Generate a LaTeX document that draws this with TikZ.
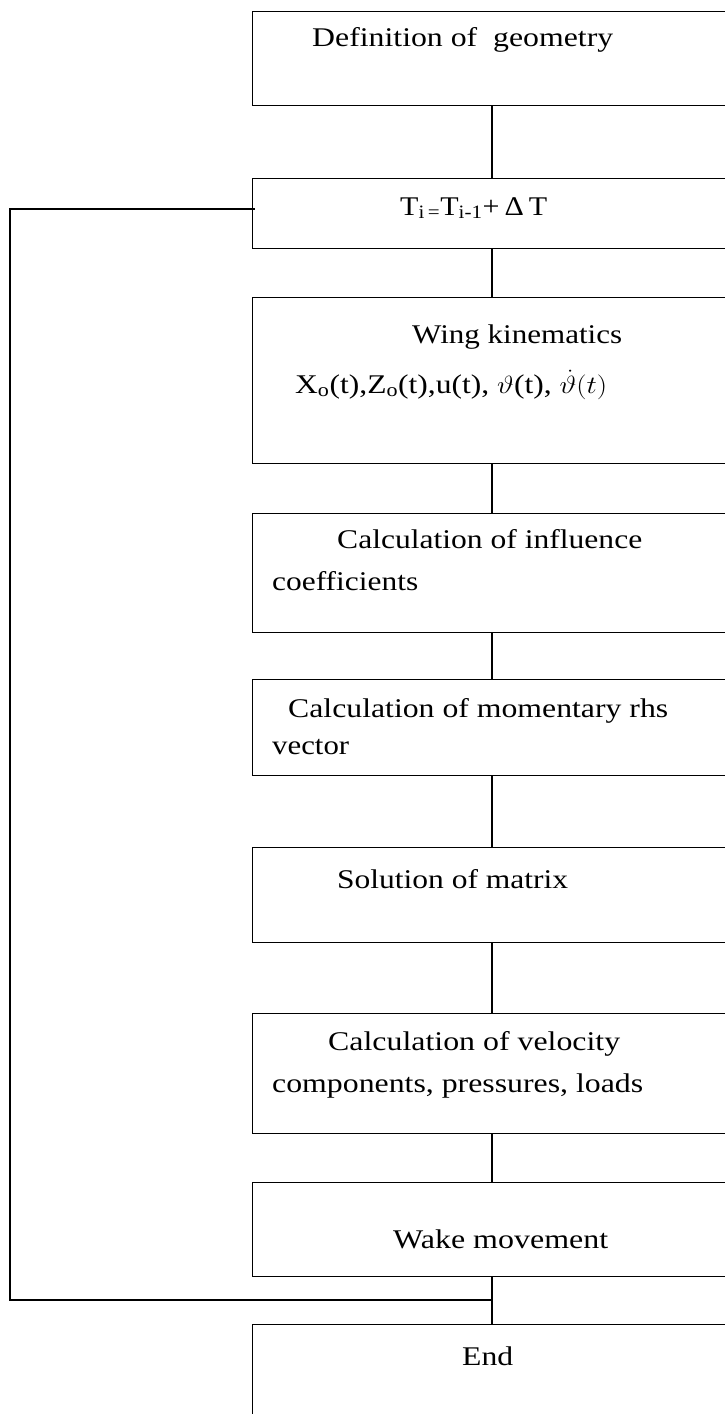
\documentclass[tikz,border=0pt]{standalone}
\usepackage{fontspec}
\setmainfont{Liberation Serif}
\usepackage{graphicx}
\begin{document}
\begin{tikzpicture}[x=1pt,y=-1pt,
  box/.style={draw, line width=1.2pt, rectangle, minimum width=478pt, inner sep=0pt, anchor=north west},
  txt/.style={anchor=base west, inner sep=0pt, font=\fontsize{27}{30}\selectfont},
  conn/.style={line width=1.1pt}]
\useasboundingbox (0,0) rectangle (725,1414);
% boxes
\node[box, minimum height=94pt]  (b1) at (252,11) {};
\node[box, minimum height=70pt]  (b2) at (252,178) {};
\node[box, minimum height=166pt] (b3) at (252,297) {};
\node[box, minimum height=119pt] (b4) at (252,513) {};
\node[box, minimum height=96pt]  (b5) at (252,679) {};
\node[box, minimum height=95pt]  (b6) at (252,847) {};
\node[box, minimum height=120pt] (b7) at (252,1013) {};
\node[box, minimum height=94pt]  (b8) at (252,1182) {};
\node[box, minimum height=130pt] (b9) at (252,1324) {};
% texts
\node[txt] (t1) at (312,46) {\resizebox{301pt}{\height}{Definition of~~geometry}};
\node[txt] (t2) at (400,215) {\resizebox{147pt}{\height}{T\textsubscript{i\,=}T\textsubscript{i-1}+\,Δ\,T}};
\node[txt] (t3) at (412,343) {\resizebox{210pt}{\height}{Wing kinematics}};
\node[txt] (t4) at (295,393) {\resizebox{312pt}{\height}{X\textsubscript{o}(t),Z\textsubscript{o}(t),u(t), $\vartheta$(t), $\smash{\dot{\vartheta}}(t)$}};
\node[txt] (t5) at (337,548) {\resizebox{305pt}{\height}{Calculation of influence}};
\node[txt] (t6) at (272,590) {\resizebox{146pt}{\height}{coefficients}};
\node[txt] (t7) at (288,717) {\resizebox{380pt}{\height}{Calculation of momentary rhs}};
\node[txt] (t8) at (272,754) {\resizebox{77pt}{\height}{vector}};
\node[txt] (t9) at (337,888) {\resizebox{231pt}{\height}{Solution of matrix}};
\node[txt] (t10) at (328,1050) {\resizebox{292pt}{\height}{Calculation of velocity}};
\node[txt] (t11) at (272,1092) {\resizebox{371pt}{\height}{components, pressures, loads}};
\node[txt] (t12) at (393,1248) {\resizebox{215pt}{\height}{Wake movement}};
\node[txt] (t13) at (462,1365) {\resizebox{51pt}{\height}{End}};
% connectors
\coordinate (cx) at (492,0);
\draw[conn] (b1.south -| cx) -- (b2.north -| cx);
\draw[conn] (b2.south -| cx) -- (b3.north -| cx);
\draw[conn] (b3.south -| cx) -- (b4.north -| cx);
\draw[conn] (b4.south -| cx) -- (b5.north -| cx);
\draw[conn] (b5.south -| cx) -- (b6.north -| cx);
\draw[conn] (b6.south -| cx) -- (b7.north -| cx);
\draw[conn] (b7.south -| cx) -- (b8.north -| cx);
\draw[conn] (b8.south -| cx) -- (b9.north -| cx);
% loop back
\coordinate (lj) at (492,1300);
\coordinate (lc1) at (10,1300);
\coordinate (lc2) at (10,209);
\coordinate (le) at (255,209);
\draw[conn] (lj) -- (lc1) -- (lc2) -- (le);
\end{tikzpicture}
\end{document}
